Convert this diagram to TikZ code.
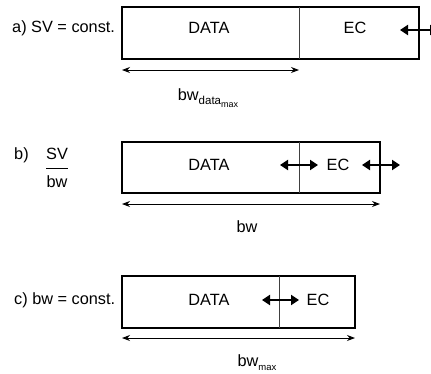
\documentclass[tikz,border=0pt]{standalone}
\usepackage{fontspec}
\setmainfont{Liberation Sans}
\usetikzlibrary{arrows.meta}
\begin{document}
\begin{tikzpicture}[x=1pt,y=-1pt,
  lbl/.style={font=\fontsize{16.3}{19}\selectfont, inner sep=0pt},
  frame/.style={draw, line width=1.4pt},
  divider/.style={draw=black!75, line width=0.9pt},
  dim/.style={line width=0.9pt, {Stealth[length=8pt,width=6pt]}-{Stealth[length=8pt,width=6pt]}},
  move/.style={line width=2.6pt, {Triangle[length=8pt,width=10pt]}-{Triangle[length=8pt,width=10pt]}}]
\useasboundingbox (0,0) rectangle (431,373);
\clip (0,0) rectangle (431,373);

% ---------- panel a ----------
\coordinate (aNW) at (122,7);
\coordinate (aSE) at (419,59);
\coordinate (aDt) at (299,7);
\coordinate (aDb) at (299,59);
\draw[frame] (aNW) rectangle (aSE);
\draw[divider] (aDt) -- (aDb);
\node[lbl, anchor=west] (aLab) at (12,28) {a) SV = const.};
\node[lbl] (aData) at (209,28) {DATA};
\node[lbl] (aEC) at (355,28) {EC};
\coordinate (aM1) at (400,30);
\coordinate (aM2) at (438,30);
\draw[move] (aM1) -- (aM2);
\coordinate (aL) at (122,70);
\coordinate (aR) at (299,70);
\draw[dim] (aL) -- (aR);
\node[lbl] (aBw) at (208,98) {bw\raisebox{-4pt}{\fontsize{11.5}{12}\selectfont data\raisebox{-3pt}{\fontsize{9}{10}\selectfont max}}};

% ---------- panel b ----------
\coordinate (bNW) at (122,142);
\coordinate (bSE) at (380,193);
\coordinate (bDt) at (299,142);
\coordinate (bDb) at (299,193);
\draw[frame] (bNW) rectangle (bSE);
\draw[divider] (bDt) -- (bDb);
\node[lbl, anchor=west] (bLab) at (14,155) {b)};
\node[lbl] (bSV) at (57,154) {SV};
\coordinate (bBar1) at (46,168);
\coordinate (bBar2) at (68,168);
\draw[line width=1pt] (bBar1) -- (bBar2);
\node[lbl] (bBw) at (57,182) {bw};
\node[lbl] (bData) at (209,165) {DATA};
\node[lbl] (bEC) at (338,165) {EC};
\coordinate (bM1) at (280,165);
\coordinate (bM2) at (318,165);
\draw[move] (bM1) -- (bM2);
\coordinate (bM3) at (362,165);
\coordinate (bM4) at (400,165);
\draw[move] (bM3) -- (bM4);
\coordinate (bL) at (122,204);
\coordinate (bR) at (380,204);
\draw[dim] (bL) -- (bR);
\node[lbl] (bBwLab) at (247,227) {bw};

% ---------- panel c ----------
\coordinate (cNW) at (122,276);
\coordinate (cSE) at (355,328);
\coordinate (cDt) at (279,276);
\coordinate (cDb) at (279,328);
\draw[frame] (cNW) rectangle (cSE);
\draw[divider] (cDt) -- (cDb);
\node[lbl, anchor=west] (cLab) at (14,300) {c) bw = const.};
\node[lbl] (cData) at (209,300) {DATA};
\node[lbl] (cEC) at (318,300) {EC};
\coordinate (cM1) at (262,300);
\coordinate (cM2) at (299,300);
\draw[move] (cM1) -- (cM2);
\coordinate (cL) at (122,338);
\coordinate (cR) at (355,338);
\draw[dim] (cL) -- (cR);
\node[lbl] (cBw) at (257,363) {bw\raisebox{-4pt}{\fontsize{9.5}{10}\selectfont max}};
\end{tikzpicture}
\end{document}
